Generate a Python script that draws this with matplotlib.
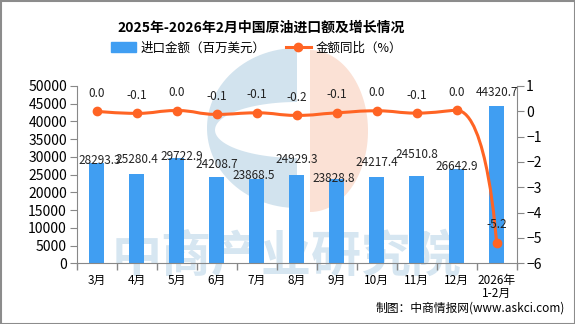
"""
2025-2026 China crude oil import value chart.
"""

import numpy as np
import matplotlib
matplotlib.use("Agg")
import matplotlib.pyplot as plt
from matplotlib.patches import Polygon, Rectangle
from matplotlib.path import Path
from matplotlib.patches import PathPatch
from matplotlib.lines import Line2D

plt.rcParams["font.family"] = ["Noto Sans CJK SC", "DejaVu Sans"]

MONTHS = ["3月", "4月", "5月", "6月", "7月", "8月", "9月", "10月", "11月", "12月", "2026年\n1-2月"]
IMPORT_VALUE = [28293.3, 25280.4, 29722.9, 24208.7, 23868.5, 24929.3, 23828.8,
                24217.4, 24510.8, 26642.9, 44320.7]
YOY_CHANGE = [0.0, -0.08, 0.03, -0.12, -0.06, -0.16, -0.06, 0.02, -0.07, 0.04, -5.18]

# label centre above bar top (points)
BAR_LABEL_DY = [2, 10, 1, 9, 2, 11, 0, 11, 16, 2, 10]
BAR_LABEL_DX = [2, 0, 4, 0, -2, 0, -2, 0, 0, 0, 0]

BAR_COLOR = "#409ef2"
LINE_COLOR = "#ff6424"
AXIS_COLOR = "#888888"


def smooth_line(pts, smooth=0.5):
    """Bezier path through pixel points, control points kept inside neighbour boxes."""
    n = len(pts)
    cin = [p.copy() for p in pts]
    cout = [p.copy() for p in pts]
    for i in range(1, n - 1):
        prev, cur, nxt = pts[i - 1], pts[i], pts[i + 1]
        v = nxt - prev
        lp = np.hypot(*(cur - prev))
        ln = np.hypot(*(nxt - cur))
        r = ln / (ln + lp)
        co = cur + v * smooth * r
        co = np.clip(co, np.minimum(cur, nxt), np.maximum(cur, nxt))
        ci = cur - (co - cur) * lp / ln
        ci = np.clip(ci, np.minimum(prev, cur), np.maximum(prev, cur))
        co = cur + (cur - ci) * ln / lp
        cin[i], cout[i] = ci, co
    verts = [pts[0]]
    codes = [Path.MOVETO]
    for i in range(n - 1):
        verts += [cout[i], cin[i + 1], pts[i + 1]]
        codes += [Path.CURVE4] * 3
    return Path(np.array(verts), codes)


def half_ellipse(cx, cy, rx, ry, left=True):
    t = np.linspace(np.pi / 2, 3 * np.pi / 2, 60) if left else np.linspace(-np.pi / 2, np.pi / 2, 60)
    return np.column_stack([cx + rx * np.cos(t), cy + ry * np.sin(t)])


def draw_background(fig):
    bg = fig.add_axes([0, 0, 1, 1], zorder=0)
    bg.set_xlim(0, 575)
    bg.set_ylim(324, 0)
    bg.axis("off")
    bg.add_patch(Polygon(half_ellipse(310, 131, 58, 81, left=False), color="#fbe1d5", lw=0))
    bg.add_patch(Polygon(half_ellipse(297, 128, 90, 80), color="#d2e3ee", lw=0))
    bg.add_patch(Polygon(half_ellipse(297, 130, 82, 28), color="white", lw=0))
    bg.text(287, 258, "中商产业研究院", fontsize=36, fontweight="bold", color="#d6e6f1",
            ha="center", va="center")
    bg.add_patch(Rectangle((0.5, 0.5), 574, 323, fill=False, ec="#8c8c8c", lw=1.5))


def main() -> None:
    fig = plt.figure(figsize=(5.75, 3.24), dpi=100)
    draw_background(fig)

    ax = fig.add_axes([0.1334, 0.1873, 0.7649, 0.5473], zorder=1)
    ax.patch.set_visible(False)
    x = np.arange(len(MONTHS))
    bars = ax.bar(x, IMPORT_VALUE, width=0.39, color=BAR_COLOR, zorder=2)
    ax.set_xlim(-0.5, len(MONTHS) - 0.5)
    ax.set_ylim(0, 50000)
    ax.set_yticks(np.arange(0, 50001, 5000))
    ax.set_xticks(np.arange(-0.5, len(MONTHS)), labels=[])
    ax.set_xticks(x, labels=MONTHS, minor=True)
    ax.tick_params(axis="x", which="major", length=5, color=AXIS_COLOR, width=1)
    ax.tick_params(axis="x", which="minor", length=0, labelsize=8.5, pad=8)
    ax.tick_params(axis="y", length=5, color=AXIS_COLOR, labelsize=10, pad=2)
    for side in ("top", "right"):
        ax.spines[side].set_visible(False)
    for side in ("left", "bottom"):
        ax.spines[side].set_color(AXIS_COLOR)
    for lbl in ax.get_xticklabels(minor=True):
        lbl.set_linespacing(1.0)

    for b, v, dx, dy in zip(bars, IMPORT_VALUE, BAR_LABEL_DX, BAR_LABEL_DY):
        ax.annotate(f"{v:.1f}", (b.get_x() + b.get_width() / 2, v), xytext=(dx, dy),
                    textcoords="offset points", ha="center", va="center", fontsize=8.5,
                    color="#222222", zorder=5)

    ax2 = ax.twinx()
    ax2.set_zorder(2)
    ax2.patch.set_visible(False)
    ax2.set_ylim(-6, 1)
    pix = ax2.transData.transform(np.column_stack([x, YOY_CHANGE]))
    path = ax2.transData.inverted().transform_path(smooth_line(list(pix)))
    ax2.add_patch(PathPatch(path, fill=False, ec=LINE_COLOR, lw=2.2, capstyle="round"))
    ax2.plot(x, YOY_CHANGE, "o", color=LINE_COLOR, ms=6)
    ax2.set_yticks(np.arange(-6, 2, 1))
    ax2.tick_params(axis="y", length=5, color=AXIS_COLOR, labelsize=10, pad=2)
    for side in ("top", "left", "bottom"):
        ax2.spines[side].set_visible(False)
    ax2.spines["right"].set_color(AXIS_COLOR)
    for xi, v in zip(x, YOY_CHANGE):
        ax2.annotate(f"{v:.1f}", (xi, v), xytext=(0, 13), textcoords="offset points",
                     ha="center", va="center", fontsize=8.5, color="#222222")

    fig.text(0.455, 0.915, "2025年-2026年2月中国原油进口额及增长情况", ha="center", va="center",
             fontsize=10, fontweight="bold")
    handles = [Rectangle((0, 0), 1, 1, color=BAR_COLOR),
               Line2D([], [], color=LINE_COLOR, lw=2.2, marker="o", ms=6)]
    fig.legend(handles, ["进口金额（百万美元）", "金额同比（%）"], loc="center",
               bbox_to_anchor=(0.446, 0.852), ncol=2, frameon=False, fontsize=9,
               handlelength=2.0, handleheight=0.8, columnspacing=1.6, handletextpad=0.4)
    fig.text(0.983, 0.048, "制图：中商情报网(www.askci.com)", ha="right", va="center", fontsize=8.5)

    fig.savefig("out.png", dpi=100)
    plt.close(fig)


if __name__ == "__main__":
    main()
